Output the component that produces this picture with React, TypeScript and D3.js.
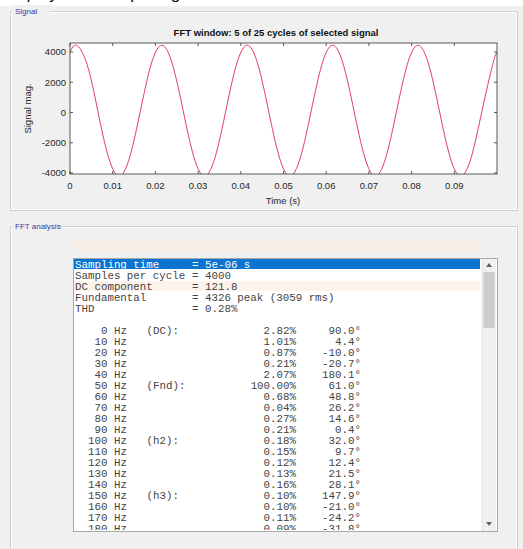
import React from "react";
import * as d3 from "d3";

// ---- Data ----
const sigTime = [0, 0.0015, 0.004, 0.0065, 0.009, 0.0115, 0.014, 0.0165, 0.019,
  0.0215, 0.024, 0.0265, 0.029, 0.0315, 0.034, 0.0365, 0.039,
  0.0415, 0.044, 0.0465, 0.049, 0.0515, 0.054, 0.0565, 0.059,
  0.0615, 0.064, 0.0665, 0.069, 0.0715, 0.074, 0.0765, 0.079,
  0.0815, 0.084, 0.0865, 0.089, 0.0915, 0.094, 0.0965, 0.099, 0.1];
const sigValue = [3977, 4448, 3181, 122, -2937, -4204, -2937, 122, 3181,
  4448, 3181, 122, -2937, -4204, -2937, 122, 3181,
  4448, 3181, 122, -2937, -4204, -2937, 122, 3181,
  4448, 3181, 122, -2937, -4204, -2937, 122, 3181,
  4448, 3181, 122, -2937, -4204, -2937, 122, 3181, 3977];

const xTicks = [0, 0.01, 0.02, 0.03, 0.04, 0.05, 0.06, 0.07, 0.08, 0.09];
const xTickLabels = ["0", "0.01", "0.02", "0.03", "0.04", "0.05", "0.06", "0.07", "0.08", "0.09"];
const yTicks = [-4000, -2000, 0, 2000, 4000];
const yTickLabels = ["-4000", "-2000", "0", "2000", "4000"];

const headerLabels = ["Sampling time", "Samples per cycle", "DC component", "Fundamental", "THD"];
const headerValues = ["= 5e-06 s", "= 4000", "= 121.8", "= 4326 peak (3059 rms)", "= 0.28%"];

const freqs = [0, 10, 20, 30, 40, 50, 60, 70, 80, 90, 100, 110, 120, 130, 140, 150, 160, 170, 180];
const harmLabels = ["(DC):", "", "", "", "", "(Fnd):", "", "", "", "", "(h2):", "", "", "", "", "(h3):", "", "", ""];
const mags = ["2.82%", "1.01%", "0.87%", "0.21%", "2.07%", "100.00%", "0.68%", "0.04%", "0.27%", "0.21%",
  "0.18%", "0.15%", "0.12%", "0.13%", "0.16%", "0.10%", "0.10%", "0.11%", "0.09%"];
const phases = ["90.0°", "4.4°", "-10.0°", "-20.7°", "180.1°", "61.0°", "48.8°", "26.2°", "14.6°", "0.4°",
  "32.0°", "9.7°", "12.4°", "21.5°", "28.1°", "147.9°", "-21.0°", "-24.2°", "-31.8°"];

export default function App() {
  const W = 523, H = 549;
  const x = d3.scaleLinear().domain([0, 0.1]).range([70, 497]);
  const y = d3.scaleLinear().domain([-4066, 4595]).range([174, 43]);
  const pts = sigTime.map((t, i) => [t, sigValue[i]] as [number, number]);
  const line = d3.line<[number, number]>().x(d => x(d[0])).y(d => y(d[1])).curve(d3.curveNatural);

  const sans = "'Liberation Sans', Arial, sans-serif";
  const mono = "'Liberation Mono', 'Courier New', monospace";
  const [x0, x1] = x.range();
  const [yb, yt] = y.range();

  // listbox geometry
  const lbX = 73, lbY = 258, lbW = 424, lbH = 273;
  const rowH = 11, row0 = 264, cw = 6.5, tx = 75;
  const rowC = (i: number) => row0 + rowH * i;

  return (
    <svg width={W} height={H} style={{ position: "absolute", left: 0, top: 0, display: "block" }}>
      <defs>
        <clipPath id="plotclip"><rect x={x0} y={yt} width={x1 - x0} height={yb - yt} /></clipPath>
        <clipPath id="lbclip"><rect x={lbX + 1} y={lbY + 1} width={lbW - 16} height={lbH - 2} /></clipPath>
      </defs>
      <rect x={0} y={0} width={W} height={H} fill="#f0f0f0" />
      <rect x={0} y={0} width={W} height={6} fill="#ffffff" />
      <text x={2} y={-1} fontFamily={sans} fontSize={17} fill="#111">Display FFT of input signal.</text>

      {/* Panel 1 */}
      <rect x={10.5} y={11.5} width={507} height={199} fill="none" stroke="#d0d0d0" />
      <rect x={11.5} y={12.5} width={505} height={197} fill="none" stroke="#ffffff" />
      <rect x={12} y={5} width={38} height={12} fill="#f0f0f0" />
      <text x={15} y={13.5} fontFamily={sans} fontSize={8} fill="#3a3aa8">Signal</text>

      {/* Axes */}
      <rect x={x0} y={yt} width={x1 - x0} height={yb - yt} fill="#ffffff" />
      <path d={line(pts) || ""} fill="none" stroke="#e0405c" strokeWidth={1} clipPath="url(#plotclip)" />
      <rect x={x0} y={yt} width={x1 - x0} height={yb - yt} fill="none" stroke="#333" strokeWidth={0.8} />
      {xTicks.map((t, i) => (
        <g key={"xt" + i}>
          <line x1={x(t)} x2={x(t)} y1={yb} y2={yb - 3} stroke="#333" strokeWidth={0.8} />
          <line x1={x(t)} x2={x(t)} y1={yt} y2={yt + 3} stroke="#333" strokeWidth={0.8} />
          <text x={x(t)} y={189} textAnchor="middle" fontFamily={sans} fontSize={9.5} fill="#262626">{xTickLabels[i]}</text>
        </g>
      ))}
      {yTicks.map((v, i) => (
        <g key={"yt" + i}>
          <line x1={x0} x2={x0 + 3} y1={y(v)} y2={y(v)} stroke="#333" strokeWidth={0.8} />
          <line x1={x1} x2={x1 - 3} y1={y(v)} y2={y(v)} stroke="#333" strokeWidth={0.8} />
          <text x={66} y={y(v) + 3.3} textAnchor="end" fontFamily={sans} fontSize={9.5} fill="#262626">{yTickLabels[i]}</text>
        </g>
      ))}
      <text x={276} y={36} textAnchor="middle" fontFamily={sans} fontSize={9.5} fontWeight="bold" fill="#111">FFT window: 5 of 25 cycles of selected signal</text>
      <text x={283} y={204} textAnchor="middle" fontFamily={sans} fontSize={9.5} fill="#262626">Time (s)</text>
      <text transform={`translate(31,${(yt + yb) / 2}) rotate(-90)`} textAnchor="middle" fontFamily={sans} fontSize={9.5} fill="#262626">Signal mag.</text>

      {/* Panel 2 */}
      <rect x={10.5} y={226.5} width={507} height={340} fill="none" stroke="#d0d0d0" />
      <rect x={11.5} y={227.5} width={505} height={340} fill="none" stroke="#ffffff" />
      <rect x={12} y={220} width={45} height={12} fill="#f0f0f0" />
      <text x={15} y={228.5} fontFamily={sans} fontSize={8} fill="#3a3aa8">FFT analysis</text>

      {/* ghost band above listbox */}
      <line x1={72} x2={475} y1={235.5} y2={235.5} stroke="#e3ecf7" />
      <rect x={72} y={240} width={408} height={11} fill="#f7efe6" />

      {/* Listbox */}
      <rect x={lbX + 0.5} y={lbY + 0.5} width={lbW} height={lbH} fill="#ffffff" stroke="#a8a8a8" />
      <rect x={lbX + 1} y={rowC(2) - 5} width={406} height={10} fill="#fdf3ea" />
      <g clipPath="url(#lbclip)">
        <rect x={lbX + 1} y={rowC(0) - 5} width={406} height={10} fill="#0a74d0" />
        {headerLabels.map((lab, i) => (
          <g key={"h" + i} fontFamily={mono} fontSize={10.8} fill={i === 0 ? "#ffffff" : "#444"}>
            <text x={tx} y={rowC(i) + 3.5}>{lab}</text>
            <text x={tx + 18 * cw} y={rowC(i) + 3.5}>{headerValues[i]}</text>
          </g>
        ))}
        {freqs.map((f, i) => {
          const r = i + 6;
          const cy = rowC(r) + 3.5;
          return (
            <g key={"r" + i} fontFamily={mono} fontSize={10.8} fill="#444">
              <text x={tx + 8 * cw} y={cy} textAnchor="end">{`${f} Hz`}</text>
              <text x={tx + 11 * cw} y={cy}>{harmLabels[i]}</text>
              <text x={tx + 34 * cw} y={cy} textAnchor="end">{mags[i]}</text>
              <text x={tx + 44 * cw} y={cy} textAnchor="end">{phases[i]}</text>
            </g>
          );
        })}
      </g>
      {/* scrollbar */}
      <rect x={482} y={lbY + 1} width={14} height={lbH - 1} fill="#f0f0f0" />
      <line x1={482} x2={482} y1={lbY + 1} y2={lbY + lbH} stroke="#e2e2e2" />
      <rect x={483.5} y={272} width={11} height={56} fill="#cdcdcd" />
      <path d="M486,267 L489,263 L492,267 Z" fill="#606060" />
      <path d="M486,522 L489,526 L492,522 Z" fill="#606060" />
    </svg>
  );
}
